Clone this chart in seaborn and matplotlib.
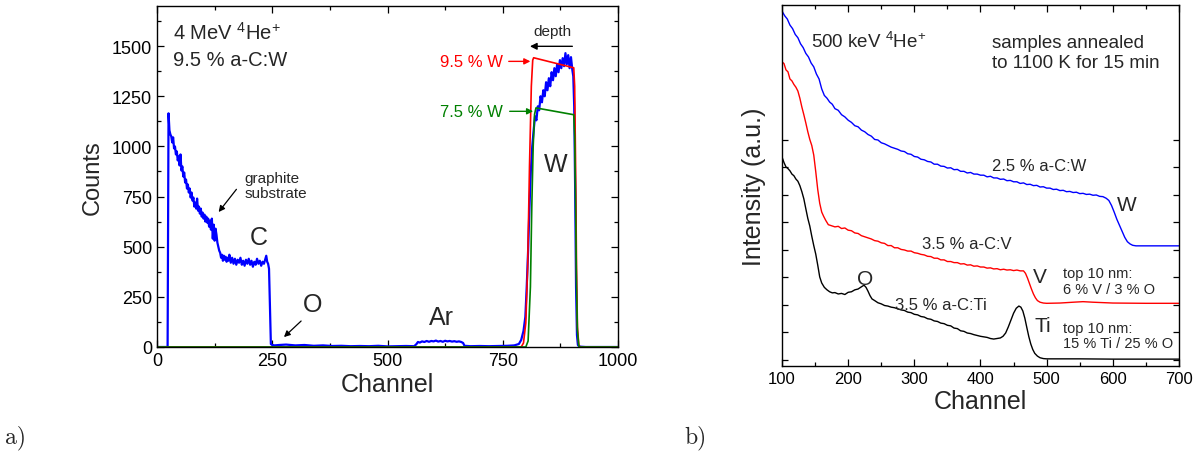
import matplotlib
matplotlib.use("Agg")
import matplotlib.pyplot as plt
from matplotlib.ticker import MultipleLocator, NullFormatter, FixedLocator
import seaborn as sns
import numpy as np

# ---------------- panel a: 4 MeV He RBS spectrum of 9.5 % a-C:W ----------------
chan_meas = [0, 23, 24, 25, 27, 29, 31, 33, 35, 37, 39, 41, 43, 45, 47, 49, 51, 53, 55, 57, 59,
             61, 63, 65, 67, 69, 71, 73, 75, 77, 79, 81, 83, 85, 87, 89, 91, 93, 95, 97, 99,
             101, 103, 105, 107, 109, 111, 113, 115, 117, 119, 121, 123, 125, 127, 129, 131,
             133, 135, 137, 139, 141, 143, 145, 147, 149, 151, 153, 155, 157, 160, 163, 166,
             169, 172, 175, 178, 181, 184, 187, 190, 193, 196, 199, 202, 205, 208, 211, 214,
             217, 220, 223, 226, 229, 232, 235, 237, 239, 241, 243, 245, 247, 250, 255, 265,
             280, 300, 320, 340, 360, 380, 400, 420, 440, 460, 480, 500, 520, 540, 558, 563,
             566, 570, 575, 580, 585, 590, 595, 600, 605, 610, 615, 620, 625, 630, 635, 640,
             645, 650, 655, 660, 664, 667, 680, 700, 720, 740, 760, 775, 785, 790, 795, 799,
             802, 805, 808, 811, 814, 817, 820, 823, 826, 829, 832, 835, 838, 841, 844, 847,
             850, 853, 856, 859, 862, 865, 868, 871, 874, 877, 880, 883, 886, 889, 892, 895,
             898, 901, 903, 905, 907, 909, 911, 913, 916, 930, 1000]
counts_meas = [0, 0, 600, 1165, 1080, 1060, 1050, 1020, 1045, 990, 1000, 960, 975, 930, 950, 905,
               960, 880, 900, 850, 870, 820, 835, 790, 810, 770, 790, 745, 770, 730, 745, 700,
               720, 690, 740, 680, 700, 665, 690, 650, 670, 640, 660, 625, 650, 620, 640, 600,
               630, 585, 640, 540, 610, 530, 590, 560, 520, 500, 480, 470, 445, 460, 430, 455,
               435, 450, 425, 445, 430, 460, 420, 445, 415, 440, 410, 435, 420, 445, 410, 430,
               405, 435, 415, 440, 410, 430, 400, 425, 410, 440, 415, 430, 405, 425, 415, 440,
               455, 425, 415, 390, 200, 15, 10, 8, 10, 12, 8, 10, 6, 8, 5, 6, 4, 5, 4, 6, 3, 4,
               5, 4, 15, 25, 22, 28, 25, 30, 26, 30, 28, 32, 27, 30, 26, 31, 28, 30, 27, 29, 26,
               28, 25, 20, 6, 4, 5, 4, 5, 6, 8, 15, 35, 80, 150, 300, 480, 700, 880, 1000, 1080,
               1150, 1130, 1200, 1180, 1250, 1220, 1280, 1250, 1320, 1280, 1340, 1300, 1370,
               1330, 1390, 1350, 1410, 1370, 1430, 1390, 1440, 1400, 1465, 1410, 1455, 1390,
               1445, 1380, 1350, 1200, 800, 300, 60, 10, 2, 0, 0]

chan_sim95 = [0, 790, 795, 800, 804, 808, 812, 815, 817, 904, 906, 908, 910, 912, 915, 918, 1000]
counts_sim95 = [0, 0, 20, 120, 400, 900, 1300, 1430, 1442, 1392, 1300, 900, 400, 100, 10, 0, 0]

chan_sim75 = [0, 800, 805, 810, 813, 816, 819, 822, 904, 906, 908, 910, 912, 915, 918, 1000]
counts_sim75 = [0, 0, 30, 300, 700, 1000, 1160, 1192, 1158, 1050, 700, 300, 80, 5, 0, 0]

# ---------------- panel b: 500 keV He spectra of annealed films ----------------
chan_w = [100, 104, 108, 112, 116, 120, 124, 128, 132, 136, 140, 144, 148, 152, 156, 160, 164,
          168, 172, 176, 180, 185, 190, 195, 200, 205, 210, 215, 220, 225, 230, 235, 240, 245,
          250, 255, 260, 265, 270, 275, 280, 285, 290, 295, 300, 305, 310, 315, 320, 325, 330,
          335, 340, 345, 350, 355, 360, 365, 370, 375, 380, 385, 390, 395, 400, 405, 410, 415,
          420, 425, 430, 435, 440, 445, 450, 455, 460, 465, 470, 475, 480, 485, 490, 495, 500,
          505, 510, 515, 520, 525, 530, 535, 540, 545, 550, 555, 560, 565, 570, 575, 580, 585,
          590, 594, 598, 602, 606, 610, 614, 618, 622, 626, 630, 635, 640, 660, 680, 700]
int_w = [12.69, 12.52, 12.40, 12.18, 12.05, 11.84, 11.72, 11.50, 11.36, 11.15, 11.02, 10.80,
         10.66, 10.40, 10.22, 9.86, 9.62, 9.52, 9.38, 9.30, 9.14, 9.08, 8.92, 8.84, 8.72, 8.64,
         8.52, 8.48, 8.36, 8.30, 8.20, 8.14, 8.02, 8.00, 7.90, 7.86, 7.80, 7.74, 7.70, 7.66,
         7.60, 7.58, 7.50, 7.48, 7.40, 7.38, 7.30, 7.28, 7.22, 7.20, 7.12, 7.12, 7.05, 7.04,
         6.98, 6.99, 6.92, 6.93, 6.86, 6.86, 6.80, 6.82, 6.76, 6.76, 6.72, 6.72, 6.66, 6.68,
         6.62, 6.62, 6.57, 6.58, 6.52, 6.53, 6.48, 6.48, 6.42, 6.44, 6.38, 6.39, 6.34, 6.35,
         6.29, 6.30, 6.25, 6.25, 6.20, 6.21, 6.16, 6.17, 6.12, 6.13, 6.09, 6.10, 6.05, 6.06,
         6.02, 6.03, 5.99, 6.00, 5.95, 5.94, 5.88, 5.80, 5.62, 5.38, 5.12, 4.90, 4.68, 4.46,
         4.30, 4.22, 4.17, 4.15, 4.15, 4.15, 4.15, 4.15]

chan_v = [100, 103, 106, 109, 112, 115, 118, 121, 124, 127, 130, 133, 136, 139, 142, 145, 148,
          151, 154, 157, 160, 163, 166, 170, 175, 180, 185, 190, 195, 200, 205, 210, 215, 220,
          225, 230, 235, 240, 245, 250, 255, 260, 265, 270, 275, 280, 285, 290, 295, 300, 305,
          310, 315, 320, 325, 330, 335, 340, 345, 350, 355, 360, 365, 370, 375, 380, 385, 390,
          395, 400, 405, 410, 415, 420, 425, 430, 435, 440, 445, 450, 455, 460, 465, 468, 471,
          474, 477, 480, 483, 486, 490, 495, 500, 520, 540, 555, 570, 600, 650, 700]
int_v = [10.84, 10.78, 10.55, 10.48, 10.22, 10.15, 10.02, 9.92, 9.78, 9.52, 9.20, 8.92, 8.62,
         8.30, 8.02, 7.80, 7.45, 6.85, 6.20, 5.70, 5.38, 5.22, 5.08, 4.92, 4.88, 4.84, 4.86,
         4.78, 4.80, 4.72, 4.70, 4.62, 4.60, 4.52, 4.48, 4.44, 4.40, 4.34, 4.32, 4.26, 4.24,
         4.16, 4.16, 4.08, 4.08, 4.02, 4.00, 3.96, 3.96, 3.90, 3.88, 3.84, 3.82, 3.77, 3.76,
         3.70, 3.70, 3.64, 3.64, 3.58, 3.58, 3.54, 3.54, 3.49, 3.50, 3.45, 3.46, 3.41, 3.42,
         3.38, 3.38, 3.34, 3.35, 3.31, 3.32, 3.28, 3.30, 3.27, 3.28, 3.25, 3.27, 3.24, 3.24,
         3.15, 2.98, 2.78, 2.58, 2.40, 2.26, 2.16, 2.10, 2.07, 2.06, 2.07, 2.10, 2.12, 2.10,
         2.07, 2.06, 2.06]

chan_ti = [100, 103, 106, 109, 112, 115, 118, 121, 124, 127, 130, 133, 136, 139, 142, 145, 148,
           151, 154, 157, 160, 164, 168, 172, 176, 180, 185, 190, 195, 200, 205, 210, 215, 220,
           224, 227, 230, 233, 236, 240, 245, 250, 255, 260, 265, 270, 275, 280, 285, 290, 295,
           300, 305, 310, 315, 320, 325, 330, 335, 340, 345, 350, 355, 360, 365, 370, 375, 380,
           385, 390, 395, 400, 405, 410, 415, 420, 425, 430, 434, 438, 442, 446, 450, 454, 458,
           461, 464, 467, 470, 473, 476, 479, 482, 486, 490, 495, 500, 550, 600, 650, 700]
int_ti = [7.38, 7.18, 7.02, 6.96, 6.88, 6.76, 6.70, 6.58, 6.50, 6.34, 6.12, 5.86, 5.50, 5.15,
          4.87, 4.50, 4.16, 3.85, 3.45, 3.02, 2.80, 2.64, 2.55, 2.48, 2.44, 2.45, 2.40, 2.42,
          2.38, 2.46, 2.48, 2.55, 2.58, 2.66, 2.72, 2.64, 2.50, 2.34, 2.22, 2.16, 2.08, 2.04,
          1.98, 1.96, 1.92, 1.90, 1.86, 1.82, 1.80, 1.74, 1.72, 1.66, 1.64, 1.58, 1.56, 1.50,
          1.48, 1.42, 1.40, 1.34, 1.32, 1.26, 1.24, 1.16, 1.14, 1.06, 1.04, 0.98, 0.96, 0.92,
          0.89, 0.86, 0.84, 0.82, 0.78, 0.76, 0.78, 0.80, 0.86, 0.98, 1.20, 1.45, 1.70, 1.88,
          1.96, 1.92, 1.78, 1.52, 1.18, 0.85, 0.58, 0.38, 0.24, 0.14, 0.08, 0.05, 0.04, 0.04,
          0.03, 0.03, 0.03]

# ---------------- styling ----------------
sns.set_style("ticks")
plt.rcParams["font.family"] = ["Liberation Sans", "DejaVu Sans"]
plt.rcParams["mathtext.fontset"] = "custom"
plt.rcParams["mathtext.rm"] = "Liberation Sans"
plt.rcParams["mathtext.it"] = "Liberation Sans:italic"
plt.rcParams["mathtext.bf"] = "Liberation Sans:bold"
plt.rcParams["axes.linewidth"] = 1.0

BLUE, RED, GREEN, BLACK = "#0000ff", "#ff0000", "#008000", "#000000"

fig = plt.figure(figsize=(11.97, 4.56), dpi=100)
ax_a = fig.add_axes([157 / 1197, 1 - 348 / 456, 461 / 1197, 341 / 456])
ax_b = fig.add_axes([782 / 1197, 1 - 367 / 456, 397 / 1197, 361 / 456])


def style_ticks(ax, size):
    ax.tick_params(which="both", direction="in", top=True, right=True,
                   colors="black", labelsize=size, width=0.9)
    ax.tick_params(which="major", length=5)
    ax.tick_params(which="minor", length=3)
    for s in ax.spines.values():
        s.set_color("black")
        s.set_visible(True)


# ---- panel a ----
sns.lineplot(x=chan_meas, y=counts_meas, ax=ax_a, color=BLUE, lw=1.6, estimator=None, sort=False)
sns.lineplot(x=chan_sim95, y=counts_sim95, ax=ax_a, color=RED, lw=1.2, estimator=None, sort=False)
sns.lineplot(x=chan_sim75, y=counts_sim75, ax=ax_a, color=GREEN, lw=1.2, estimator=None, sort=False)
ax_a.set_xlim(0, 1000)
ax_a.set_ylim(0, 1700)
ax_a.xaxis.set_major_locator(MultipleLocator(250))
ax_a.xaxis.set_minor_locator(MultipleLocator(125))
ax_a.yaxis.set_major_locator(MultipleLocator(250))
ax_a.yaxis.set_minor_locator(MultipleLocator(125))
style_ticks(ax_a, 13)
ax_a.set_xlabel("Channel", fontsize=18, labelpad=2)
ax_a.set_ylabel("Counts", fontsize=17, labelpad=6)

ax_a.text(35, 1569, r"4 MeV $^{4}$He$^{+}$", fontsize=14.5, ha="left", va="center")
ax_a.text(35, 1434, "9.5 % a-C:W", fontsize=14.5, ha="left", va="center")
ax_a.text(857, 1575, "depth", fontsize=11, ha="center", va="center")
ax_a.annotate("", xy=(803, 1499), xytext=(907, 1499),
              arrowprops=dict(arrowstyle="-|>", color="black", lw=1.0, mutation_scale=10))
ax_a.text(750, 1424, "9.5 % W", fontsize=12, color=RED, ha="right", va="center")
ax_a.annotate("", xy=(816, 1424), xytext=(757, 1424),
              arrowprops=dict(arrowstyle="-|>", color=RED, lw=1.0, mutation_scale=9))
ax_a.text(750, 1175, "7.5 % W", fontsize=12, color=GREEN, ha="right", va="center")
ax_a.annotate("", xy=(822, 1175), xytext=(759, 1175),
              arrowprops=dict(arrowstyle="-|>", color=GREEN, lw=1.0, mutation_scale=9))
ax_a.text(865, 911, "W", fontsize=18, ha="center", va="center")
ax_a.text(221, 548, "C", fontsize=18, ha="center", va="center")
ax_a.text(189, 804, "graphite\nsubstrate", fontsize=11, ha="left", va="center", linespacing=1.1)
ax_a.annotate("", xy=(130, 662), xytext=(176, 797),
              arrowprops=dict(arrowstyle="-|>", color="black", lw=0.9, mutation_scale=9))
ax_a.text(338, 214, "O", fontsize=18, ha="center", va="center")
ax_a.annotate("", xy=(271, 40), xytext=(317, 139),
              arrowprops=dict(arrowstyle="-|>", color="black", lw=0.9, mutation_scale=9))
ax_a.text(618, 149, "Ar", fontsize=18, ha="center", va="center")

# ---- panel b ----
sns.lineplot(x=chan_w, y=int_w, ax=ax_b, color=BLUE, lw=1.0, estimator=None, sort=False)
sns.lineplot(x=chan_v, y=int_v, ax=ax_b, color=RED, lw=1.0, estimator=None, sort=False)
sns.lineplot(x=chan_ti, y=int_ti, ax=ax_b, color=BLACK, lw=1.0, estimator=None, sort=False)
ax_b.set_xlim(100, 700)
ax_b.set_ylim(-0.22, 12.91)
ax_b.xaxis.set_major_locator(MultipleLocator(100))
ax_b.xaxis.set_minor_locator(MultipleLocator(50))
ax_b.yaxis.set_major_locator(FixedLocator(list(range(0, 9))))
ax_b.yaxis.set_major_formatter(NullFormatter())
style_ticks(ax_b, 12)
ax_b.tick_params(axis="y", which="major", length=4)
ax_b.set_xlabel("Channel", fontsize=18, labelpad=2)
ax_b.set_ylabel("Intensity (a.u.)", fontsize=18, labelpad=8)

ax_b.text(144, 11.6, r"500 keV $^{4}$He$^{+}$", fontsize=13.5, ha="left", va="center")
ax_b.text(417, 11.18, "samples annealed\nto 1100 K for 15 min", fontsize=13.5,
          ha="left", va="center", linespacing=1.2)
ax_b.text(417, 7.09, "2.5 % a-C:W", fontsize=12, ha="left", va="center")
ax_b.text(606, 5.67, "W", fontsize=15, ha="left", va="center")
ax_b.text(312, 4.22, "3.5 % a-C:V", fontsize=12, ha="left", va="center")
ax_b.text(479, 3.05, "V", fontsize=15, ha="left", va="center")
ax_b.text(525, 2.87, "top 10 nm:\n6 % V / 3 % O", fontsize=10.5, ha="left", va="center",
          linespacing=1.15)
ax_b.text(213, 2.98, "O", fontsize=15, ha="left", va="center")
ax_b.text(271, 2.0, "3.5 % a-C:Ti", fontsize=12, ha="left", va="center")
ax_b.text(482, 1.27, "Ti", fontsize=15, ha="left", va="center")
ax_b.text(525, 0.89, "top 10 nm:\n15 % Ti / 25 % O", fontsize=10.5, ha="left", va="center",
          linespacing=1.15)

# panel letters
fig.text(15 / 1197, 1 - 438 / 456, "a)", fontsize=17, family="cmr10", ha="center", va="center")
fig.text(695 / 1197, 1 - 438 / 456, "b)", fontsize=17, family="cmr10", ha="center", va="center")

fig.savefig("out.png", dpi=100)
